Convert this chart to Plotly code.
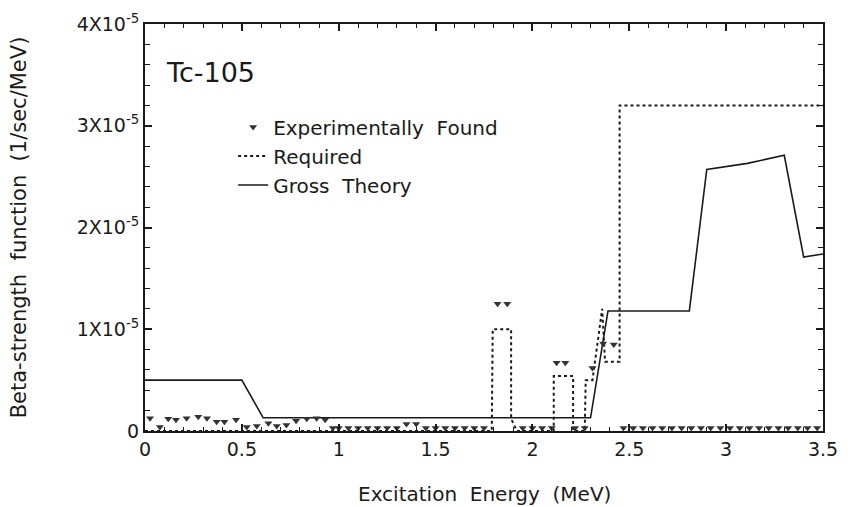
import plotly.graph_objects as go

# ---- data (y values in units of 1e-5 1/sec/MeV) ----
gross_x = [0.0, 0.5, 0.61, 2.30, 2.39, 2.81, 2.90, 3.11, 3.30, 3.40, 3.5]
gross_y = [0.5, 0.5, 0.13, 0.13, 1.18, 1.18, 2.57, 2.63, 2.71, 1.71, 1.74]

req_x = [0.0, 1.79, 1.795, 1.89, 1.89, 1.92, 2.11, 2.11, 2.21, 2.21, 2.27, 2.275, 2.31, 2.36, 2.375, 2.45, 2.45, 3.5]
req_y = [0.0, 0.0, 1.0, 1.0, 0.12, 0.0, 0.0, 0.54, 0.54, 0.0, 0.0, 0.5, 0.5, 1.2, 0.68, 0.68, 3.2, 3.2]

exp_x = [0.026, 0.077, 0.12, 0.16, 0.215, 0.275, 0.32, 0.37, 0.41, 0.47,
         0.525, 0.577, 0.637, 0.68, 0.73, 0.78, 0.835, 0.886, 0.93, 0.97,
         1.00, 1.05, 1.10, 1.15, 1.20, 1.25, 1.30, 1.35, 1.40, 1.45, 1.50,
         1.55, 1.60, 1.65, 1.70, 1.75, 1.95, 2.00, 2.05, 2.10, 2.22, 2.27,
         2.47, 2.52, 2.57, 2.62, 2.67, 2.72, 2.77, 2.82, 2.87, 2.92, 2.97,
         3.02, 3.07, 3.12, 3.17, 3.22, 3.27, 3.32, 3.37, 3.42, 3.47,
         1.82, 1.87, 2.125, 2.17, 2.31, 2.365, 2.42]
exp_y = [0.125, 0.04, 0.12, 0.11, 0.125, 0.14, 0.125, 0.09, 0.09, 0.11,
         0.04, 0.05, 0.075, 0.05, 0.06, 0.10, 0.12, 0.125, 0.11, 0.03,
         0.03, 0.03, 0.03, 0.03, 0.03, 0.03, 0.03, 0.07, 0.07, 0.03, 0.03,
         0.03, 0.03, 0.03, 0.03, 0.03, 0.03, 0.03, 0.03, 0.03, 0.03, 0.03,
         0.03, 0.03, 0.03, 0.03, 0.03, 0.03, 0.03, 0.03, 0.03, 0.03, 0.03,
         0.03, 0.03, 0.03, 0.03, 0.03, 0.03, 0.03, 0.03, 0.03, 0.03,
         1.25, 1.25, 0.67, 0.67, 0.62, 0.86, 0.85]

x_ticks = [0, 0.5, 1, 1.5, 2, 2.5, 3, 3.5]
x_ticklabels = ["0", "0.5", "1", "1.5", "2", "2.5", "3", "3.5"]
y_ticks = [0, 1, 2, 3, 4]
y_ticklabels = ["0", "1X10<sup>-5</sup>", "2X10<sup>-5</sup>", "3X10<sup>-5</sup>", "4X10<sup>-5</sup>"]

FONT = "DejaVu Sans"
INK = "#1a1a1a"

fig = go.Figure()
fig.add_trace(go.Scatter(x=gross_x, y=gross_y, mode="lines", name="Gross  Theory",
                         line=dict(color=INK, width=1.6), legendrank=3))
fig.add_trace(go.Scatter(x=req_x, y=req_y, mode="lines", name="Required",
                         line=dict(color=INK, width=2, dash="dot"), legendrank=2))
fig.add_trace(go.Scatter(x=exp_x, y=exp_y, mode="markers", name="Experimentally  Found",
                         marker=dict(symbol="triangle-down", size=7, color="#333333"),
                         legendrank=1))

fig.add_annotation(x=0.028, y=0.882, xref="paper", yref="paper", text="Tc-105",
                   showarrow=False, xanchor="left", yanchor="middle",
                   font=dict(family=FONT, size=27, color=INK))
fig.add_annotation(x=0.5, y=0, xref="paper", yref="paper", text="Excitation  Energy  (MeV)",
                   showarrow=False, xanchor="center", yanchor="middle", yshift=-63,
                   font=dict(family=FONT, size=20, color=INK))

axis_common = dict(showgrid=False, zeroline=False, showline=True, linecolor=INK,
                   linewidth=2, mirror="ticks", ticks="inside", tickcolor=INK,
                   tickwidth=1.5, ticklen=7,
                   tickfont=dict(family=FONT, size=19, color=INK))

fig.update_layout(
    width=857, height=507,
    margin=dict(l=145, r=34, t=24, b=76),
    paper_bgcolor="white", plot_bgcolor="white",
    showlegend=True,
    legend=dict(x=0.13, y=0.795, xanchor="left", yanchor="top",
                bgcolor="rgba(0,0,0,0)", font=dict(family=FONT, size=20, color=INK),
                tracegroupgap=0, itemwidth=30),
    xaxis=dict(range=[0, 3.5], tickvals=x_ticks, ticktext=x_ticklabels,
               minor=dict(ticks="inside", dtick=0.1, ticklen=4, tickcolor=INK, tickwidth=1),
               **axis_common),
    yaxis=dict(range=[0, 4], tickvals=y_ticks, ticktext=y_ticklabels,
               title=dict(text="Beta-strength  function  (1/sec/MeV)", standoff=44,
                          font=dict(family=FONT, size=21, color=INK)),
               minor=dict(ticks="inside", dtick=0.2, ticklen=5, tickcolor=INK, tickwidth=1),
               **axis_common),
)

fig.write_html("out.html")
